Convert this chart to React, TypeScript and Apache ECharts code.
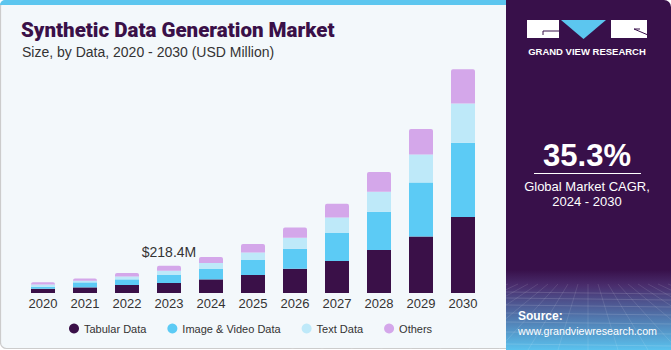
import React, { useEffect, useRef } from "react";
import * as echarts from "echarts";

const years = ["2020", "2021", "2022", "2023", "2024", "2025", "2026", "2027", "2028", "2029", "2030"];
const tabular = [34, 45, 64, 80, 109, 144, 194, 256, 344, 453, 608];
const imageVideo = [16, 40, 45, 64, 83, 120, 160, 224, 306, 432, 594];
const textData = [18, 14, 24, 34.4, 48, 61, 88, 125, 160, 224, 314];
const others = [19, 18, 27, 40, 48, 67, 82, 110, 158, 203, 275];
const labelledYear = "2023";
const labelText = "$218.4M";

const C_TAB = "#3A1048";
const C_IMG = "#5CCBF5";
const C_TXT = "#BEE9F9";
const C_OTH = "#D4A7EA";

export default function App() {
  const ref = useRef<HTMLDivElement>(null);
  useEffect(() => {
    document.body.style.margin = "0";
    const chart = echarts.init(ref.current!, null, { renderer: "svg" });
    const idx = years.indexOf(labelledYear);
    const othersData = others.map((v, i) =>
      i === idx
        ? {
            value: v,
            label: {
              show: true,
              position: "top",
              distance: 7,
              formatter: labelText,
              fontSize: 14,
              color: "#333333",
              fontFamily: "Liberation Sans, Arial, sans-serif",
            },
          }
        : v
    );
    const gridLines: any[] = [];
    const hs = [292, 298, 305, 313, 322, 332, 344];
    hs.forEach((y) =>
      gridLines.push({
        type: "line",
        shape: { x1: 506, y1: y, x2: 671, y2: y + 2 },
        style: { stroke: "rgba(255,255,255,0.18)", lineWidth: 0.8 },
        silent: true,
      })
    );
    for (let k = -10; k <= 10; k++) {
      gridLines.push({
        type: "line",
        shape: { x1: 588 + k * 10, y1: 284, x2: 588 + k * 30, y2: 350 },
        style: { stroke: "rgba(255,255,255,0.14)", lineWidth: 0.8 },
        silent: true,
      });
    }
    chart.setOption({
      animation: false,
      backgroundColor: "#ffffff",
      graphic: [
        {
          type: "rect",
          z: -10,
          shape: { x: 0.5, y: 0.5, width: 520, height: 348, r: [6, 0, 0, 6] },
          style: { fill: "#F3F8FB", stroke: "#CCCCCC", lineWidth: 1.2 },
          silent: true,
        },
        {
          type: "rect",
          z: -9,
          shape: { x: 0, y: 0, width: 512, height: 5, r: [5, 0, 0, 0] },
          style: { fill: "#5CC6EF" },
          silent: true,
        },
        {
          type: "rect",
          z: -8,
          shape: { x: 506, y: 0, width: 165, height: 350, r: [0, 7, 0, 0] },
          style: { fill: "#38104A" },
          silent: true,
        },
        {
          type: "rect",
          z: -7,
          shape: { x: 506, y: 270, width: 165, height: 80 },
          style: {
            fill: new echarts.graphic.LinearGradient(0, 0, 0, 1, [
              { offset: 0, color: "#38104A" },
              { offset: 0.2, color: "#4A2E6E" },
              { offset: 0.6, color: "#5178AE" },
              { offset: 1, color: "#5AC2EE" },
            ]),
          },
          silent: true,
        },
        ...gridLines.map((g) => ({ ...g, z: -6 })),
        {
          type: "rect",
          shape: { x: 527, y: 20, width: 32, height: 18 },
          style: { fill: "#ffffff" },
          silent: true,
        },
        {
          type: "polyline",
          shape: { points: [[560, 31], [543, 31], [543, 35]] },
          style: { stroke: "#38104A", lineWidth: 1, fill: null },
          silent: true,
        },
        {
          type: "polygon",
          shape: { points: [[561, 20], [606, 20], [583.5, 39]] },
          style: { fill: "#5CC6EF" },
          silent: true,
        },
        {
          type: "rect",
          shape: { x: 611, y: 20, width: 36, height: 18 },
          style: { fill: "#ffffff" },
          silent: true,
        },
        {
          type: "line",
          shape: { x1: 634, y1: 29, x2: 648, y2: 35 },
          style: { stroke: "#38104A", lineWidth: 1 },
          silent: true,
        },
        {
          type: "line",
          shape: { x1: 634, y1: 29, x2: 640, y2: 29 },
          style: { stroke: "#38104A", lineWidth: 1 },
          silent: true,
        },
        {
          type: "text",
          style: {
            text: "GRAND VIEW RESEARCH",
            x: 587,
            y: 51,
            align: "center",
            verticalAlign: "middle",
            fill: "#ffffff",
            font: "bold 9.5px 'Liberation Sans', Arial, sans-serif",
          },
          silent: true,
        },
        {
          type: "text",
          style: {
            text: "35.3%",
            x: 587,
            y: 155,
            align: "center",
            verticalAlign: "middle",
            fill: "#ffffff",
            font: "bold 31px 'Liberation Sans', Arial, sans-serif",
          },
          silent: true,
        },
        {
          type: "line",
          shape: { x1: 534, y1: 173.5, x2: 641, y2: 173.5 },
          style: { stroke: "#ffffff", lineWidth: 1 },
          silent: true,
        },
        {
          type: "text",
          style: {
            text: "Global Market CAGR,",
            x: 587,
            y: 186,
            align: "center",
            verticalAlign: "middle",
            fill: "#ffffff",
            font: "13px 'Liberation Sans', Arial, sans-serif",
          },
          silent: true,
        },
        {
          type: "text",
          style: {
            text: "2024 - 2030",
            x: 587,
            y: 201,
            align: "center",
            verticalAlign: "middle",
            fill: "#ffffff",
            font: "13px 'Liberation Sans', Arial, sans-serif",
          },
          silent: true,
        },
        {
          type: "text",
          style: {
            text: "Source:",
            x: 518,
            y: 316,
            align: "left",
            verticalAlign: "middle",
            fill: "#ffffff",
            font: "bold 12px 'Liberation Sans', Arial, sans-serif",
          },
          silent: true,
        },
        {
          type: "text",
          style: {
            text: "www.grandviewresearch.com",
            x: 518,
            y: 331,
            align: "left",
            verticalAlign: "middle",
            fill: "#ffffff",
            font: "10.7px 'Liberation Sans', Arial, sans-serif",
          },
          silent: true,
        },
      ],
      title: [
        {
          text: "Synthetic Data Generation Market",
          left: 16,
          top: 14,
          textStyle: {
            fontFamily: "Roboto, 'Liberation Sans', Arial, sans-serif",
            fontWeight: 900,
            fontSize: 20.5,
            color: "#3A1048",
          },
        },
        {
          text: "Size, by Data, 2020 - 2030 (USD Million)",
          left: 17,
          top: 40,
          textStyle: {
            fontFamily: "'Liberation Sans', Arial, sans-serif",
            fontWeight: "normal",
            fontSize: 14,
            color: "#333333",
          },
        },
      ],
      legend: {
        left: 64,
        top: 318,
        icon: "circle",
        itemWidth: 10,
        itemHeight: 10,
        itemGap: 21,
        textStyle: {
          fontFamily: "'Liberation Sans', Arial, sans-serif",
          fontSize: 11,
          color: "#333333",
        },
        data: ["Tabular Data", "Image & Video Data", "Text Data", "Others"],
      },
      grid: { left: 22, right: 187, top: 43, bottom: 57 },
      xAxis: {
        type: "category",
        data: years,
        axisLine: { show: false },
        axisTick: { show: false },
        axisLabel: {
          margin: 4,
          fontSize: 13,
          color: "#333333",
          fontFamily: "'Liberation Sans', Arial, sans-serif",
        },
      },
      yAxis: {
        type: "value",
        min: 0,
        max: 2000,
        show: false,
        splitLine: { show: false },
      },
      series: [
        { name: "Tabular Data", type: "bar", stack: "t", barWidth: 24, data: tabular, itemStyle: { color: C_TAB } },
        { name: "Image & Video Data", type: "bar", stack: "t", barWidth: 24, data: imageVideo, itemStyle: { color: C_IMG } },
        { name: "Text Data", type: "bar", stack: "t", barWidth: 24, data: textData, itemStyle: { color: C_TXT } },
        {
          name: "Others",
          type: "bar",
          stack: "t",
          barWidth: 24,
          data: othersData,
          itemStyle: { color: C_OTH, borderRadius: [2, 2, 0, 0] },
        },
      ],
    });
    return () => chart.dispose();
  }, []);
  return <div ref={ref} style={{ width: 671, height: 350 }} />;
}
